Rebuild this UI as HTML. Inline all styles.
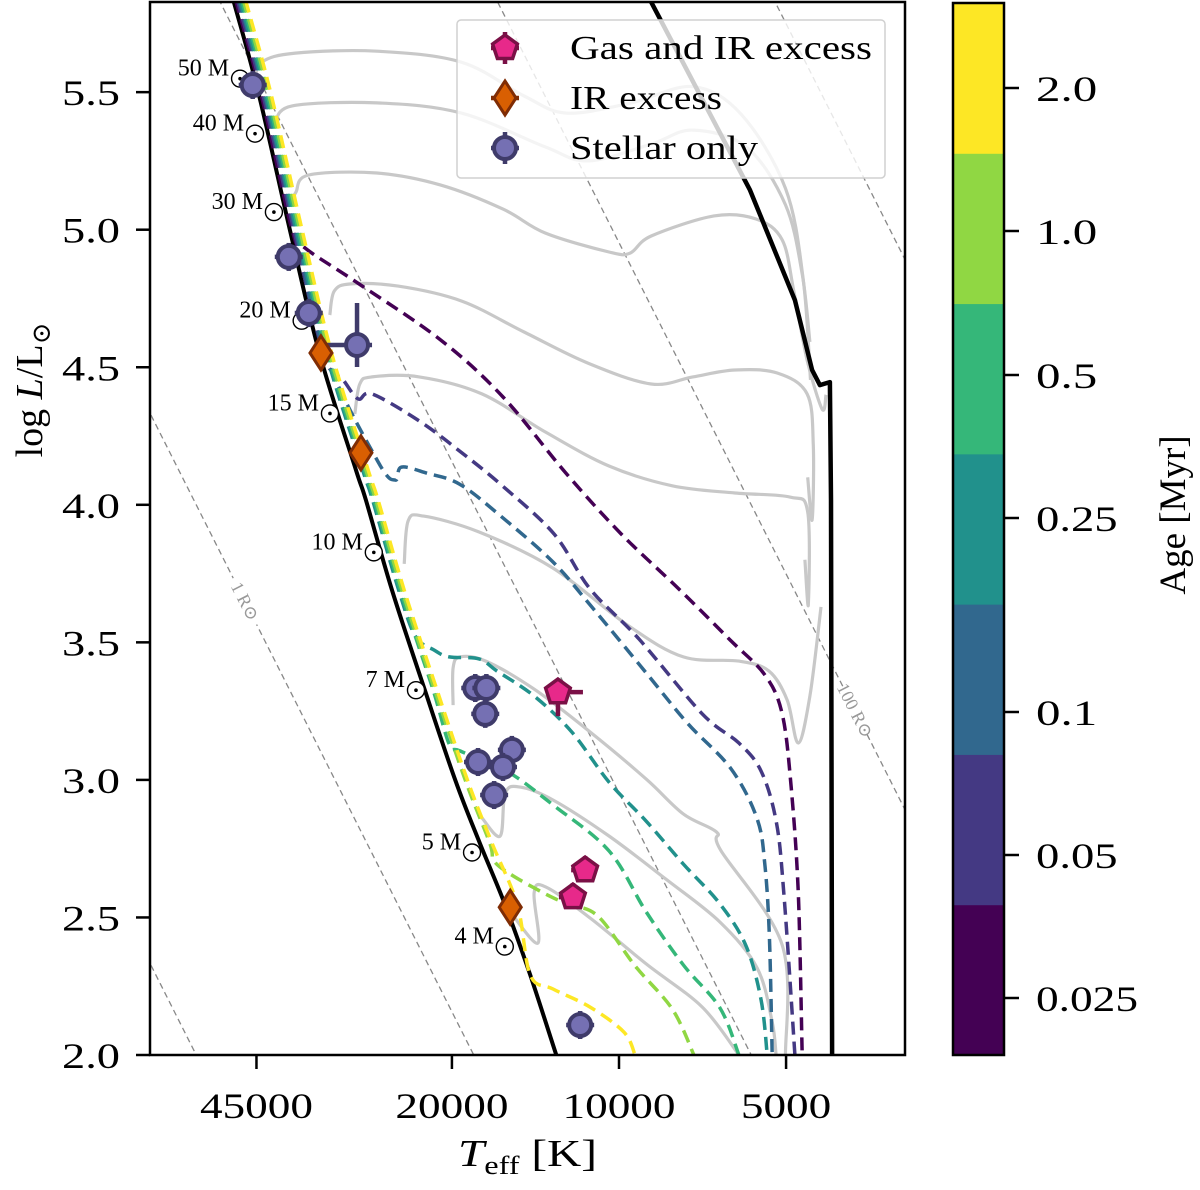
<!DOCTYPE html>
<html><head><meta charset="utf-8"><style>
html,body{margin:0;padding:0;background:#fff;overflow:hidden;width:1200px;height:1190px}
svg{display:block;font-family:"Liberation Serif","DejaVu Serif",serif}
</style></head><body>
<svg id="c" width="1200" height="1190" viewBox="0 0 1200 1190" xmlns="http://www.w3.org/2000/svg">
<defs><clipPath id="clip"><rect x="150" y="2" width="755" height="1053"/></clipPath></defs>
<g id="plot" clip-path="url(#clip)"></g>
<rect x="150" y="2" width="755" height="1053" fill="none" stroke="#000" stroke-width="2.5"/>
<g id="axes"></g>
</svg>
<script>
// ---- data ----
const xTicks=[45000,20000,10000,5000];
const yTicks=[2.0,2.5,3.0,3.5,4.0,4.5,5.0,5.5];
const zamsT=[4.695,4.650,4.593,4.539,4.474,4.456,4.409,4.350,4.295,4.251,4.205,4.160,4.113];
const zamsL=[5.835,5.501,4.999,4.545,4.127,4.017,3.690,3.327,2.999,2.771,2.545,2.291,2.0];
const birthT=[3.944,3.854,3.764,3.683,3.652,3.638,3.620,3.618,3.616];
const birthL=[5.835,5.490,5.144,4.744,4.490,4.435,4.446,4.017,2.0];
const radii=[0.1,1,10,100,1000];
const ages=['0.025','0.05','0.1','0.25','0.5','1.0','2.0'];
const ageColors=['#440154','#443983','#31688e','#21918c','#35b779','#90d743','#fde725'];
const ageTickY=[998,855,712,518,375,231,88];
const isoOffset=[0.004,0.007,0.010,0.012,0.015,0.018,0.022];
const isoT=[
 [4.566,4.476,4.323,4.209,4.096,3.996,3.890,3.800,3.737,3.706,3.690,3.677,3.670],
 [4.497,4.470,4.445,4.360,4.285,4.209,4.117,4.052,3.964,3.850,3.784,3.744,3.717,3.703,3.683],
 [4.434,4.403,4.392,4.346,4.287,4.213,4.119,4.052,3.951,3.877,3.798,3.751,3.737,3.729,3.724],
 [4.367,4.333,4.306,4.252,4.220,4.153,4.085,4.018,3.951,3.884,3.818,3.771,3.744,3.733],
 [4.306,4.286,4.200,4.119,4.018,3.951,3.884,3.818,3.784],
 [4.225,4.193,4.132,4.092,4.038,3.971,3.904,3.865],
 [4.160,4.119,4.052,3.991,3.971]];
const isoL=[
 [4.934,4.813,4.602,4.392,4.116,3.894,3.690,3.509,3.381,3.240,2.977,2.589,2.0],
 [4.454,4.385,4.403,4.305,4.192,4.067,3.894,3.694,3.512,3.240,3.134,3.032,2.851,2.589,2.0],
 [4.156,4.090,4.137,4.115,4.075,3.959,3.792,3.636,3.389,3.207,3.040,2.858,2.687,2.429,2.0],
 [3.523,3.472,3.447,3.440,3.396,3.305,3.174,2.992,2.850,2.694,2.549,2.396,2.200,2.0],
 [3.130,3.105,3.029,2.909,2.742,2.520,2.327,2.171,2.0],
 [2.705,2.654,2.585,2.548,2.505,2.324,2.167,2.0],
 [2.291,2.240,2.174,2.083,2.0]];
const tracks=[
 {m:'50',T:[4.656,4.643,4.583,4.436,4.284,4.171,4.095,3.980,3.867,3.780,3.700,3.668,3.655],L:[5.544,5.610,5.642,5.649,5.609,5.486,5.424,5.460,5.520,5.420,5.150,4.817,4.454]},
 {m:'40',T:[4.620,4.589,4.436,4.284,4.133,4.056,3.942,3.867,3.770,3.700,3.670,3.656],L:[5.388,5.450,5.461,5.424,5.301,5.250,5.311,5.362,5.300,5.090,4.839,4.592]},
 {m:'30',T:[4.589,4.582,4.559,4.436,4.322,4.209,4.133,4.018,3.980,3.942,3.829,3.753,3.706,3.685,3.661,3.634,3.627],L:[5.101,5.137,5.199,5.206,5.163,5.075,4.988,4.919,4.915,4.977,5.050,5.039,4.963,4.777,4.526,4.348,4.400]},
 {m:'20',T:[4.521,4.513,4.483,4.398,4.284,4.171,4.056,3.942,3.867,3.791,3.715,3.661,3.650,3.652,3.660],L:[4.690,4.777,4.803,4.795,4.741,4.628,4.515,4.439,4.465,4.490,4.479,4.403,4.217,3.945,4.100]},
 {m:'15',T:[4.476,4.467,4.445,4.360,4.247,4.133,4.018,3.904,3.791,3.692,3.660,3.659,3.665],L:[4.330,4.439,4.465,4.465,4.403,4.265,4.141,4.069,4.043,4.028,3.974,3.636,3.800]},
 {m:'10',T:[4.387,4.380,4.352,4.252,4.119,3.985,3.884,3.784,3.730,3.697,3.677,3.656,3.636],L:[3.785,3.941,3.959,3.901,3.770,3.563,3.447,3.432,3.396,3.290,3.134,3.305,3.629]},
 {m:'7',T:[4.299,4.299,4.286,4.240,4.153,4.052,3.951,3.884,3.824,3.817,3.706,3.700],L:[3.272,3.407,3.447,3.432,3.330,3.174,3.003,2.876,2.810,2.745,2.400,2.0]},
 {m:'5',T:[4.247,4.214,4.205,4.178,4.119,4.018,3.916,3.818,3.751,3.724,3.717],L:[2.862,2.796,2.952,2.974,2.927,2.796,2.640,2.483,2.316,2.120,2.0]},
 {m:'4',T:[4.193,4.146,4.153,4.132,4.052,3.951,3.850,3.784],L:[2.512,2.407,2.589,2.611,2.498,2.331,2.174,2.0]}];
const massLabels=['50','40','30','20','15','10','7','5','4'];
const massLabT=[4.699,4.672,4.638,4.588,4.537,4.458,4.382,4.281,4.222];
const massLabL=[5.560,5.360,5.075,4.680,4.343,3.838,3.337,2.747,2.405];
const starsStellarT=[4.660,4.595,4.559,4.472,4.259,4.239,4.241,4.254,4.193,4.209,4.225,4.070];
const starsStellarL=[5.526,4.901,4.697,4.581,3.334,3.334,3.240,3.065,3.109,3.047,2.945,2.109];
const irT=[4.537,4.465,4.196];
const irL=[4.552,4.189,2.537];
const gasT=[4.110,4.061,4.083];
const gasL=[3.319,2.672,2.574];

// ---- scales ----
const xs=t=>619-(t-4)*555;
const ys=l=>1055-(l-2)*275.1;
const NS='http://www.w3.org/2000/svg';
const plot=document.getElementById('plot'), axes=document.getElementById('axes');
function mk(tag,attrs,parent){const e=document.createElementNS(NS,tag);for(const k in attrs)e.setAttribute(k,attrs[k]);parent.appendChild(e);return e;}
function pts(T,L){return T.map((t,i)=>xs(t).toFixed(1)+','+ys(L[i]).toFixed(1)).join(' ');}
function smooth(T,L){
  const P=T.map((t,i)=>[xs(t),ys(L[i])]);
  let d='M'+P[0][0].toFixed(1)+','+P[0][1].toFixed(1);
  for(let i=0;i<P.length-1;i++){
    const p0=P[Math.max(0,i-1)],p1=P[i],p2=P[i+1],p3=P[Math.min(P.length-1,i+2)];
    const c1=[p1[0]+(p2[0]-p0[0])/6,p1[1]+(p2[1]-p0[1])/6];
    const c2=[p2[0]-(p3[0]-p1[0])/6,p2[1]-(p3[1]-p1[1])/6];
    d+=' C'+c1[0].toFixed(1)+','+c1[1].toFixed(1)+' '+c2[0].toFixed(1)+','+c2[1].toFixed(1)+' '+p2[0].toFixed(1)+','+p2[1].toFixed(1);
  }
  return d;
}

// radius lines
radii.forEach(r=>{
  const t1=4.9,t2=3.4;
  const l1=2*Math.log10(r)+4*t1-15.047, l2=2*Math.log10(r)+4*t2-15.047;
  const e=mk('line',{x1:xs(t1),y1:ys(l1),x2:xs(t2),y2:ys(l2),stroke:'#888','stroke-width':1.3,'stroke-dasharray':'6,4'},plot);
  
  
});
[[1,4.674],[100,3.5748]].forEach(([r,t])=>{
  const l=2*Math.log10(r)+4*t-15.047;
  const g=mk('g',{transform:`translate(${xs(t)},${ys(l)}) rotate(63)`},plot);
  
  
  mk('rect',{x:-26,y:-10,width:52,height:18,fill:'#fff'},g);
  const tx=mk('text',{x:0,y:6,'text-anchor':'middle','font-size':18,fill:'#999'},g);
  tx.textContent=r+' R\u2299';
});

// tracks
tracks.forEach(tr=>{
  const e=mk('path',{d:smooth(tr.T,tr.L),fill:'none',stroke:'#c8c8c8','stroke-width':3.2,'stroke-linejoin':'round'},plot);
  
  
});

// birthline
const bl=mk('polyline',{points:pts(birthT,birthL),fill:'none',stroke:'#000','stroke-width':4.5,'stroke-linejoin':'round'},plot);


// zams
const zl=mk('path',{d:smooth(zamsT,zamsL),fill:'none',stroke:'#000','stroke-width':4},plot);



// isochrones
isoT.forEach((bt,i)=>{
  const bLs=isoL[i];
  const T=[],L=[];
  zamsT.forEach((t,j)=>{ if(zamsL[j]>bLs[0]+0.05){T.push(t-isoOffset[i]);L.push(zamsL[j]);}});
  const e=mk('path',{d:smooth(T.concat(bt),L.concat(bLs)),fill:'none',stroke:ageColors[i],'stroke-width':3.5,'stroke-dasharray':'13,7'},plot);
  
  
});

// mass labels
massLabels.forEach((m,i)=>{
  const x=xs(massLabT[i]), y=ys(massLabL[i]);
  const g=mk('g',{},plot);
  
  
  const t=mk('text',{x:x-2,y:y,'text-anchor':'end','font-size':24},g);
  t.textContent=m+' M';
  mk('circle',{cx:x+9,cy:y+3,r:8.5,fill:'#fff',stroke:'#000','stroke-width':1.4},g);
  mk('circle',{cx:x+9,cy:y+3,r:1.8,fill:'#000'},g);
});

// markers
function circleM(x,y,g){mk('circle',{cx:x,cy:y,r:11,fill:'#7570b3',stroke:'#3f3b6a','stroke-width':4},g);}
function diamondM(x,y,g){mk('polygon',{points:`${x},${y-17} ${x+11},${y} ${x},${y+17} ${x-11},${y}`,fill:'#d95f02',stroke:'#7f2c04','stroke-width':3},g);}
function pentM(x,y,g){let p=[];for(let k=0;k<5;k++){const a=-Math.PI/2+k*2*Math.PI/5;p.push((x+13*Math.cos(a)).toFixed(1)+','+(y+13*Math.sin(a)).toFixed(1));}
  mk('polygon',{points:p.join(' '),fill:'#e7298a',stroke:'#7a1046','stroke-width':3.5},g);}
function errbar(x,y,l,r,u,d,col,g){
  mk('line',{x1:x-l,y1:y,x2:x+r,y2:y,stroke:col,'stroke-width':4.5},g);
  mk('line',{x1:x,y1:y-u,x2:x,y2:y+d,stroke:col,'stroke-width':4.5},g);
}
starsStellarT.forEach((t,i)=>{
  const g=mk('g',{},plot);
  
  
  const x=xs(t),y=ys(starsStellarL[i]);
  if(i===3) errbar(x,y,32,15,42,22,'#3f3b6a',g); else errbar(x,y,14,14,14,14,'#3f3b6a',g);
  circleM(x,y,g);
});
irT.forEach((t,i)=>{
  const g=mk('g',{},plot);
  
  
  diamondM(xs(t),ys(irL[i]),g);
});
gasT.forEach((t,i)=>{
  const g=mk('g',{},plot);
  
  
  const x=xs(t),y=ys(gasL[i]);
  if(i===0) errbar(x,y,12,25,12,24,'#7a1046',g); else errbar(x,y,14,8,14,8,'#7a1046',g);
  pentM(x,y,g);
});

// legend
const lg=mk('g',{},plot);


mk('rect',{x:457,y:20,width:428,height:158,rx:4,fill:'#fff','fill-opacity':0.8,stroke:'#d0d0d0','stroke-width':1.5},lg);
const legNames=['Gas and IR excess','IR excess','Stellar only'];
const legW=[302,152,188];
legNames.forEach((n,i)=>{
  const y=48+i*50;
  const g=mk('g',{},lg);
  
  
  const col=['#7a1046','#7f2c04','#3f3b6a'][i];
  errbar(505,y,14,14,16,16,col,g);
  if(i===0)pentM(505,y,g); else if(i===1)diamondM(505,y,g); else circleM(505,y,g);
  const t=mk('text',{x:570,y:y+11,'font-size':34,textLength:legW[i],lengthAdjust:'spacingAndGlyphs'},g);t.textContent=n;
});

// axes ticks
xTicks.forEach(v=>{
  const x=xs(Math.log10(v));
  const g=mk('g',{},axes);
  
  
  mk('line',{x1:x,y1:1055,x2:x,y2:1069,stroke:'#000','stroke-width':2.5},g);
  const w=String(v).length*22.6;
  const t=mk('text',{x:x-w/2,y:1118,'font-size':36,textLength:w,lengthAdjust:'spacingAndGlyphs'},g);t.textContent=String(v);
});
yTicks.forEach(v=>{
  const y=ys(v);
  const g=mk('g',{},axes);
  
  
  mk('line',{x1:136,y1:y,x2:150,y2:y,stroke:'#000','stroke-width':2.5},g);
  const t=mk('text',{x:62,y:y+13,'font-size':36,textLength:58,lengthAdjust:'spacingAndGlyphs'},g);t.textContent=v.toFixed(1);
});
const xl=mk('text',{x:458,y:1166,'font-size':38,textLength:139,lengthAdjust:'spacingAndGlyphs'},axes);


xl.innerHTML='<tspan font-style="italic">T</tspan><tspan font-size="26" dy="8">eff</tspan><tspan dy="-8"> [K]</tspan>';
const yl=mk('text',{transform:'translate(42,390) rotate(-90)','text-anchor':'middle','font-size':38},axes);


yl.innerHTML='log <tspan font-style="italic">L</tspan>/L<tspan font-size="26" dy="8">\u2299</tspan>';

// colorbar
const cb=mk('g',{},axes);


const bandH=1052/7;
ageColors.forEach((c,i)=>{
  const r=mk('rect',{x:953,y:1055-(i+1)*bandH,width:51,height:bandH+0.5,fill:c},cb);
  
  
});
mk('rect',{x:953,y:3,width:51,height:1052,fill:'none',stroke:'#000','stroke-width':2.5},cb);
ages.forEach((a,i)=>{
  const y=ageTickY[i];
  mk('line',{x1:1004,y1:y,x2:1019,y2:y,stroke:'#000','stroke-width':2.5},cb);
  const t=mk('text',{x:1036,y:y+13,'font-size':36,textLength:a.length*20.4,lengthAdjust:'spacingAndGlyphs'},cb);t.textContent=a;
  
  
});
const cl=mk('text',{transform:'translate(1185,515) rotate(-90)','text-anchor':'middle','font-size':37},cb);


cl.textContent='Age [Myr]';
</script>
</body></html>
